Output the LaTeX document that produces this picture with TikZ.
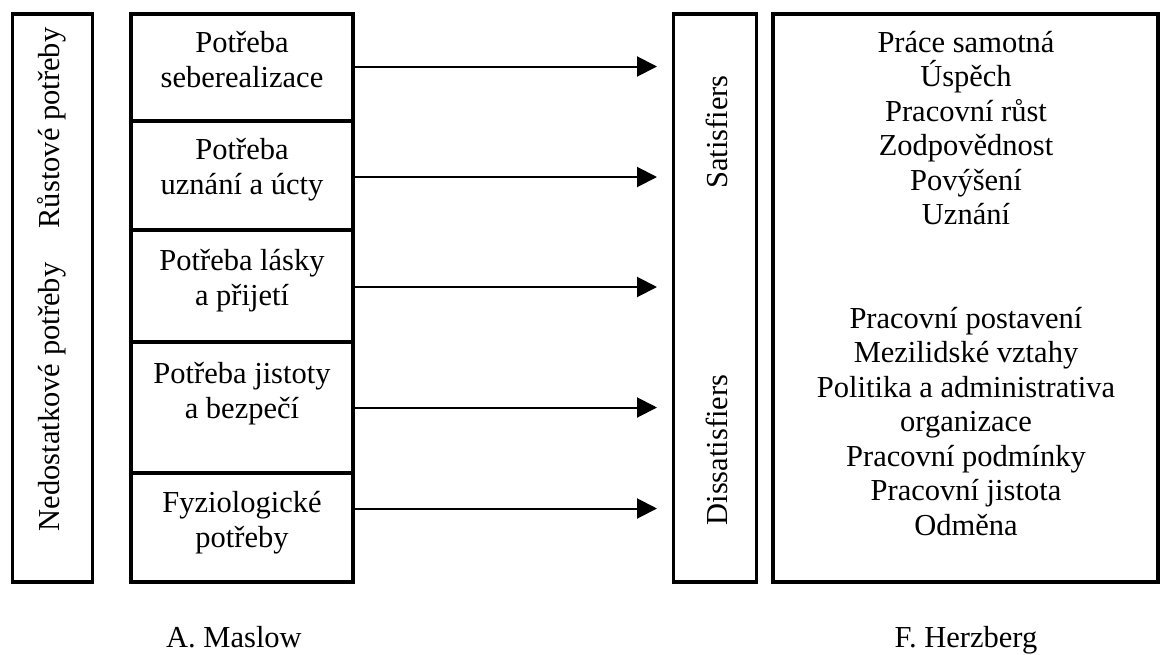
\documentclass[tikz,border=0pt]{standalone}
\usepackage{fontspec}
\setmainfont{Liberation Serif}
\usetikzlibrary{arrows.meta}
\begin{document}
\begin{tikzpicture}[x=1pt,y=-1pt,
  frame/.style={draw, line width=3.5pt, inner sep=0pt, outer sep=0pt},
  txt/.style={font=\fontsize{30.5}{35}\selectfont, align=center, inner sep=0pt},
  listtxt/.style={font=\fontsize{30.5}{34.5}\selectfont, align=center, inner sep=0pt},
  arr/.style={line width=2pt, -{Triangle[length=20pt,width=20pt]}, shorten >=16.5pt}]
  \fill[white] (0,0) rectangle (1160,654);
  \useasboundingbox (0,0) rectangle (1160,654);

  % growth / deficiency column
  \node[frame, minimum width=80pt, minimum height=568pt] (needs) at (52.5,298) {};
  \node[txt, rotate=90] (growth) at (52,128) {Růstové potřeby};
  \node[txt, rotate=90] (deficit) at (52,397) {Nedostatkové potřeby};

  % Maslow's levels
  \node[frame, minimum width=222pt, minimum height=107pt] (m1) at (242,67.5) {};
  \node[frame, minimum width=222pt, minimum height=109pt] (m2) at (242,175.5) {};
  \node[frame, minimum width=222pt, minimum height=112pt] (m3) at (242,286) {};
  \node[frame, minimum width=222pt, minimum height=131pt] (m4) at (242,407.5) {};
  \node[frame, minimum width=222pt, minimum height=109pt] (m5) at (242,527.5) {};
  \node[txt] (t1) at (242,60) {Potřeba\\seberealizace};
  \node[txt] (t2) at (242,170) {Potřeba\\uznání a úcty};
  \node[txt] (t3) at (242,281) {Potřeba lásky\\a přijetí};
  \node[txt] (t4) at (242,394) {Potřeba jistoty\\a bezpečí};
  \node[txt] (t5) at (242,523) {Fyziologické\\potřeby};

  % Herzberg's factor column
  \node[frame, minimum width=83pt, minimum height=568pt] (sd) at (715,298) {};
  \node[txt, rotate=90] (sat) at (717,132) {Satisfiers};
  \node[txt, rotate=90] (dis) at (717,450) {Dissatisfiers};

  \node[frame, minimum width=385pt, minimum height=568pt] (factors) at (965.5,298) {};
  \node[listtxt] (motiv) at (966,128) {Práce samotná\\Úspěch\\Pracovní růst\\Zodpovědnost\\Povýšení\\Uznání};
  \node[listtxt] (hyg) at (966,421.5) {Pracovní postavení\\Mezilidské vztahy\\Politika a administrativa\\organizace\\Pracovní podmínky\\Pracovní jistota\\Odměna};

  % arrows from the needs to the factors
  \draw[arr] ([yshift=1pt]m1.east) -- ([yshift=1pt]m1.east -| sd.west);
  \draw[arr] ([yshift=-1.5pt]m2.east) -- ([yshift=-1.5pt]m2.east -| sd.west);
  \draw[arr] ([yshift=-1pt]m3.east) -- ([yshift=-1pt]m3.east -| sd.west);
  \draw[arr] (m4.east) -- (m4.east -| sd.west);
  \draw[arr] ([yshift=19pt]m5.east) -- ([yshift=19pt]m5.east -| sd.west);

  % captions
  \node[txt, anchor=base] (maslow) at (234,647) {A. Maslow};
  \node[txt, anchor=base] (herzberg) at (966,647) {F. Herzberg};
\end{tikzpicture}
\end{document}
